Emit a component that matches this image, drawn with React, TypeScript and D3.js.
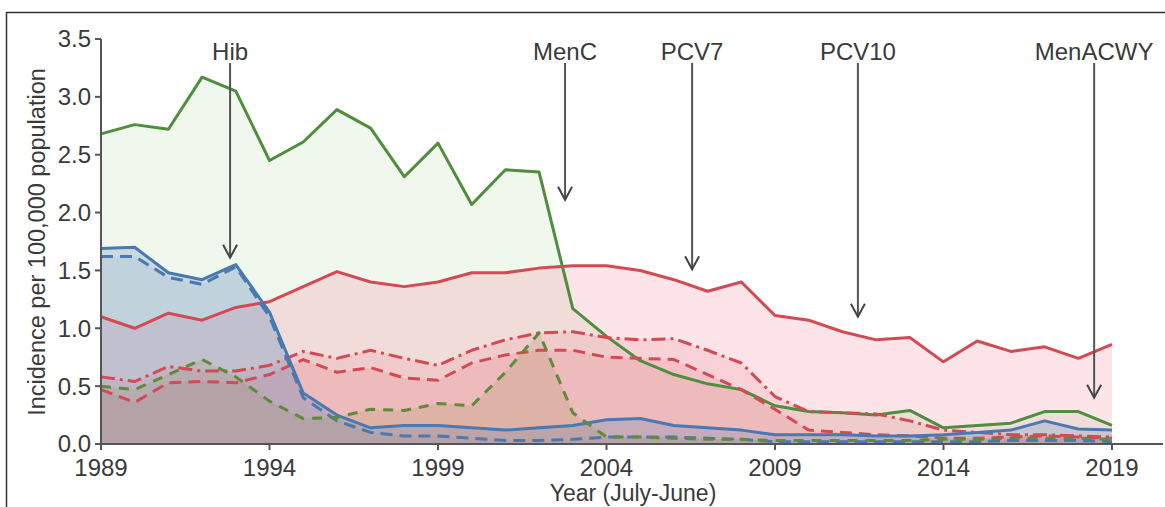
import React from "react";
import * as d3 from "d3";

const years = [1989,1990,1991,1992,1993,1994,1995,1996,1997,1998,1999,2000,2001,2002,2003,2004,2005,2006,2007,2008,2009,2010,2011,2012,2013,2014,2015,2016,2017,2018,2019];

const greenSolid = [2.68,2.76,2.72,3.17,3.05,2.45,2.61,2.89,2.73,2.31,2.6,2.07,2.37,2.35,1.17,0.93,0.72,0.6,0.52,0.47,0.33,0.28,0.27,0.25,0.29,0.14,0.16,0.18,0.28,0.28,0.16];
const greenDashed = [0.5,0.47,0.6,0.73,0.58,0.37,0.22,0.23,0.3,0.29,0.35,0.33,0.62,0.96,0.27,0.06,0.06,0.05,0.04,0.04,0.03,0.03,0.03,0.03,0.03,0.04,0.04,0.05,0.05,0.05,0.04];
const redSolid = [1.1,1.0,1.13,1.07,1.18,1.23,1.36,1.49,1.4,1.36,1.4,1.48,1.48,1.52,1.54,1.54,1.5,1.42,1.32,1.4,1.11,1.07,0.97,0.9,0.92,0.71,0.89,0.8,0.84,0.74,0.86];
const redDashDot = [0.58,0.54,0.67,0.63,0.63,0.68,0.8,0.74,0.81,0.74,0.68,0.81,0.9,0.96,0.97,0.92,0.9,0.91,0.81,0.7,0.41,0.28,0.27,0.26,0.2,0.12,0.1,0.08,0.08,0.07,0.06];
const redDashed = [0.47,0.36,0.53,0.54,0.53,0.6,0.73,0.62,0.66,0.57,0.55,0.7,0.77,0.81,0.81,0.75,0.74,0.73,0.6,0.47,0.3,0.12,0.1,0.08,0.07,0.05,0.05,0.06,0.07,0.06,0.05];
const blueSolid = [1.69,1.7,1.48,1.42,1.55,1.14,0.44,0.25,0.14,0.16,0.16,0.14,0.12,0.14,0.16,0.21,0.22,0.16,0.14,0.12,0.08,0.08,0.08,0.07,0.07,0.08,0.1,0.12,0.2,0.13,0.12];
const blueDashed = [1.62,1.62,1.44,1.38,1.53,1.1,0.4,0.2,0.1,0.07,0.07,0.05,0.03,0.03,0.04,0.06,0.06,0.06,0.05,0.04,0.02,0.02,0.02,0.02,0.02,0.02,0.02,0.03,0.03,0.03,0.02];

const yTicks = [0, 0.5, 1.0, 1.5, 2.0, 2.5, 3.0, 3.5];
const xTicks = [1989, 1994, 1999, 2004, 2009, 2014, 2019];

const arrowLabels = ["Hib", "MenC", "PCV7", "PCV10", "MenACWY"];
const arrowYears = [1992.83, 2002.77, 2006.54, 2011.46, 2018.47];
const arrowTips = [1.61, 2.11, 1.51, 1.1, 0.4];

const GREEN = "#4e8e3e";
const RED = "#d34a55";
const BLUE = "#4a78b0";

type S = { values: number[]; stroke: string; dash?: string; fill: string; width: number };

const series: S[] = [
  { values: greenSolid, stroke: GREEN, fill: "rgba(150,195,120,0.14)", width: 3 },
  { values: redSolid, stroke: RED, fill: "rgba(240,130,150,0.22)", width: 3 },
  { values: redDashDot, stroke: RED, dash: "14,5,3,5", fill: "rgba(235,120,130,0.16)", width: 3 },
  { values: redDashed, stroke: RED, dash: "12,7", fill: "rgba(230,110,120,0.18)", width: 3 },
  { values: blueSolid, stroke: BLUE, fill: "rgba(90,130,185,0.26)", width: 3 },
  { values: blueDashed, stroke: BLUE, dash: "12,7", fill: "rgba(90,130,185,0.08)", width: 3 },
  { values: greenDashed, stroke: "#5f8a3a", dash: "10,8", fill: "rgba(140,130,60,0.16)", width: 3 },
];

export default function App() {
  const W = 1165, H = 507;
  const x = d3.scaleLinear().domain([1989, 2019]).range([101, 1112]);
  const y = d3.scaleLinear().domain([0, 3.5]).range([444, 39]);
  const line = d3.line<number>().x((_, i) => x(years[i])).y((v) => y(v));
  const area = d3.area<number>().x((_, i) => x(years[i])).y0(y(0)).y1((v) => y(v));
  const font = "'Liberation Sans', Arial, sans-serif";
  const textColor = "#3a3a3a";

  return (
    <svg width={W} height={H} style={{ position: "absolute", left: 0, top: 0, background: "#fff" }} fontFamily={font}>
      <rect x={6.5} y={12.5} width={1170} height={520} fill="#fff" stroke="#333" strokeWidth={1.5} />
      {series.map((s, i) => (
        <path key={"a" + i} d={area(s.values) || ""} fill={s.fill} />
      ))}
      {series.map((s, i) => (
        <path key={"l" + i} d={line(s.values) || ""} fill="none" stroke={s.stroke} strokeWidth={s.width} strokeDasharray={s.dash} strokeLinejoin="round" />
      ))}
      <line x1={x(1989)} x2={x(1989)} y1={y(3.5)} y2={y(0)} stroke="#555" strokeWidth={2} />
      <line x1={x(1989)} x2={1163} y1={y(0)} y2={y(0)} stroke="#555" strokeWidth={2} />
      {yTicks.map((t) => (
        <g key={"yt" + t}>
          <line x1={x(1989) - 6} x2={x(1989)} y1={y(t)} y2={y(t)} stroke="#555" strokeWidth={2} />
          <text x={x(1989) - 10} y={y(t)} dy="0.35em" textAnchor="end" fontSize={24} fill={textColor}>
            {t.toFixed(1)}
          </text>
        </g>
      ))}
      {xTicks.map((t) => (
        <g key={"xt" + t}>
          <line x1={x(t)} x2={x(t)} y1={y(0)} y2={y(0) + 6} stroke="#555" strokeWidth={2} />
          <text x={x(t)} y={476} textAnchor="middle" fontSize={24} fill={textColor}>
            {t}
          </text>
        </g>
      ))}
      <text transform={`translate(45,242) rotate(-90)`} textAnchor="middle" fontSize={23.5} fill={textColor}>
        Incidence per 100,000 population
      </text>
      <text x={633} y={501} textAnchor="middle" fontSize={23} fill={textColor}>
        Year (July-June)
      </text>
      {arrowLabels.map((lab, i) => {
        const ax = x(arrowYears[i]);
        const ty = y(arrowTips[i]);
        return (
          <g key={"ar" + i}>
            <text x={ax} y={60} textAnchor="middle" fontSize={24} fill={textColor}>
              {lab}
            </text>
            <line x1={ax} x2={ax} y1={63} y2={ty} stroke="#555" strokeWidth={2} />
            <path d={`M${ax - 7},${ty - 13} L${ax},${ty} L${ax + 7},${ty - 13}`} fill="none" stroke="#444" strokeWidth={2} />
          </g>
        );
      })}
    </svg>
  );
}
